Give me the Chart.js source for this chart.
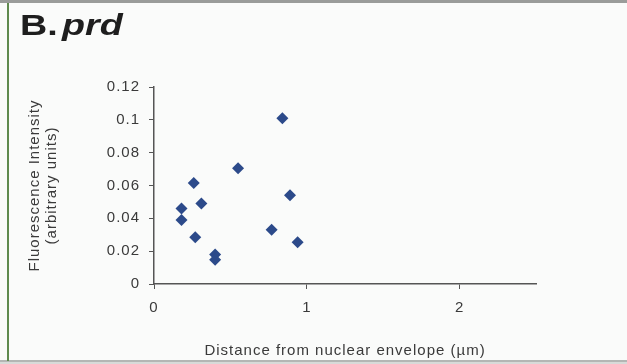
<!DOCTYPE html>
<html>
<head>
<meta charset="utf-8">
<script src="https://cdn.jsdelivr.net/npm/chart.js@4"></script>
<style>
  html, body { margin: 0; padding: 0; background: #fafbfa; }
  #wrap { width: 627px; height: 364px; position: relative; }
</style>
</head>
<body>
<div id="wrap"><canvas id="c" width="627" height="364"></canvas></div>
<script>
'use strict';

/* ── Data ──────────────────────────────────────────────────── */
const distances   = [0.84, 0.55, 0.26, 0.89, 0.31, 0.18, 0.18, 0.27, 0.77, 0.94, 0.40, 0.40];
const intensities = [0.101, 0.0705, 0.0615, 0.054, 0.049, 0.046, 0.039, 0.0285, 0.033, 0.0255, 0.018, 0.0148];
const xTicks      = [0, 1, 2];
const yTicks      = [0, 0.02, 0.04, 0.06, 0.08, 0.1, 0.12];

const FONT = '"Liberation Sans", Arial, sans-serif';

// Frame + panel heading drawn straight on the canvas
const panelPlugin = {
  id: 'panel',
  beforeUpdate(ch) {
    // scanned text in the figure runs wide — widen ours a bit
    ch.ctx.letterSpacing = '1px';
  },
  beforeDraw(ch) {
    const c = ch.ctx;
    c.letterSpacing = '1px';
    c.save();
    c.fillStyle = '#fafbfa';
    c.fillRect(0, 0, ch.width, ch.height);
    c.fillStyle = '#9a9c9a';
    c.fillRect(0, 0, ch.width, 3);
    c.fillStyle = '#b4b6b4';
    c.fillRect(0, 360, ch.width, 2);
    c.fillStyle = '#d8dad8';
    c.fillRect(0, 362, ch.width, 2);
    c.fillStyle = '#5f8a4e';
    c.fillRect(7, 3, 2, 358);
    c.restore();
  },
  afterDraw(ch) {
    const c = ch.ctx;
    const sx = 1.3;
    c.save();
    c.fillStyle = '#1e1e1e';
    c.textBaseline = 'alphabetic';
    c.letterSpacing = '0px';
    c.scale(sx, 1);
    c.font = 'bold 29px ' + FONT;
    c.fillText('B.', 20 / sx, 35);
    c.font = 'italic bold 29px ' + FONT;
    c.fillText('prd', 62 / sx, 35);
    c.restore();
  }
};

const points = distances.map((x, i) => ({ x, y: intensities[i] }));

new Chart(document.getElementById('c'), {
  type: 'scatter',
  data: {
    datasets: [{
      data: points,
      pointStyle: 'rectRot',
      pointRadius: 6,
      backgroundColor: '#2c4a8a',
      borderColor: '#2c4a8a',
      borderWidth: 0
    }]
  },
  plugins: [panelPlugin],
  options: {
    responsive: false,
    animation: false,
    layout: { padding: { top: 87, right: 91, left: 27, bottom: 0 } },
    plugins: { legend: { display: false }, tooltip: { enabled: false } },
    scales: {
      x: {
        type: 'linear',
        min: 0, max: 2.5,
        afterBuildTicks: s => { s.ticks = xTicks.map(v => ({ value: v })); },
        afterFit: s => { s.height = 80; },
        border: { color: '#555', width: 1.5 },
        grid: { drawOnChartArea: false, tickLength: 5, color: '#555' },
        ticks: { color: '#3a3a3a', font: { family: FONT, size: 15 }, padding: 10 },
        title: {
          display: true,
          text: 'Distance from nuclear envelope (µm)',
          color: '#3a3a3a',
          font: { family: FONT, size: 15 },
          padding: { top: 14 }
        }
      },
      y: {
        min: 0, max: 0.12,
        afterBuildTicks: s => { s.ticks = yTicks.map(v => ({ value: v })); },
        afterFit: s => { s.width = 127; },
        border: { color: '#555', width: 1.5 },
        grid: { drawOnChartArea: false, tickLength: 5, color: '#555' },
        ticks: {
          color: '#3a3a3a',
          font: { family: FONT, size: 15 },
          padding: 9,
          callback: v => String(+v.toFixed(2))
        },
        title: {
          display: true,
          text: ['Fluorescence Intensity', '(arbitrary units)'],
          color: '#3a3a3a',
          font: { family: FONT, size: 15, lineHeight: 1.1 },
          padding: { top: 0, bottom: 0 }
        }
      }
    }
  }
});
</script>
</body>
</html>
